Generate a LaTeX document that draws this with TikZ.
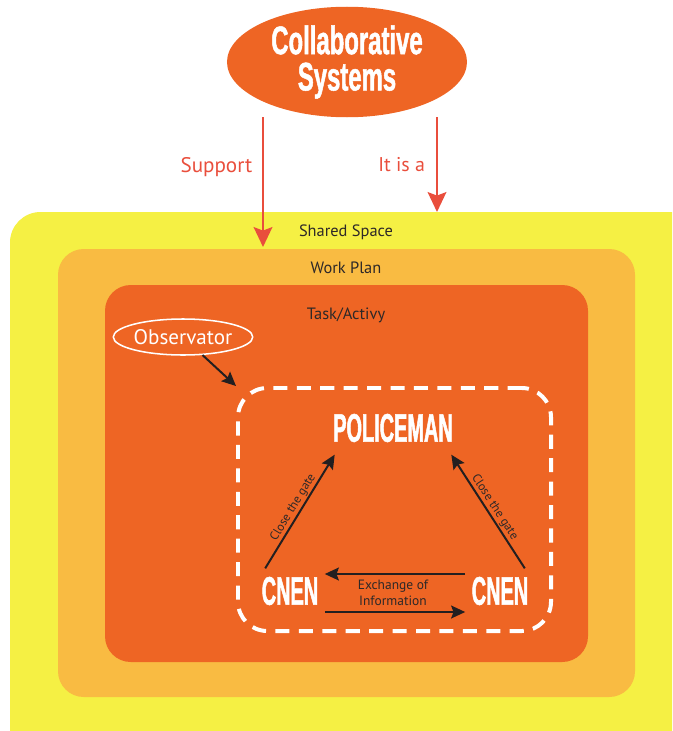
\documentclass[tikz,border=0pt]{standalone}
\usepackage{fontspec}
\setmainfont{PT Sans}
\newfontfamily\headfont[FakeStretch=0.6,FakeBold=1.2]{Liberation Sans}
\newfontfamily\capsfont[FakeStretch=0.5,FakeBold=1.2]{Liberation Sans}
\usetikzlibrary{arrows.meta,shapes.geometric}

\definecolor{sharedyellow}{RGB}{245,240,68}
\definecolor{planorange}{RGB}{249,187,66}
\definecolor{taskorange}{RGB}{238,101,36}
\definecolor{linkred}{RGB}{233,78,60}
\definecolor{arrowdark}{RGB}{35,31,32}
\definecolor{labeldark}{RGB}{45,40,40}

\tikzset{
  head/.style={text=white,inner sep=2pt,font=\headfont\bfseries\fontsize{34}{31}\selectfont},
  actor/.style={text=white,inner sep=2pt,font=\capsfont\bfseries\fontsize{34}{36}\selectfont},
  lbl/.style={text=labeldark,font=\fontsize{14}{16}\selectfont},
  small/.style={text=labeldark,inner sep=1pt,font=\fontsize{10.5}{12}\selectfont},
  redarrow/.style={draw=linkred,line width=1.7pt,-{Stealth[length=17pt,width=16pt,inset=3pt]}},
  blackarrow/.style={draw=arrowdark,line width=1.7pt,-{Stealth[length=12pt,width=11pt,inset=2pt]}},
}

\begin{document}
\begin{tikzpicture}[x=0.03cm,y=-0.03cm]
\useasboundingbox (0,0) rectangle (672,731);
\clip (0,0) rectangle (672,731);

% the three layers
\fill[sharedyellow,rounded corners=26pt] (10,212) rectangle (720,780);
\fill[planorange,rounded corners=22pt] (58,249) rectangle (635,697);
\fill[taskorange,rounded corners=22pt] (105,285) rectangle (588,662);

\node[lbl] (shared) at (346,232) {Shared Space};
\node[lbl] (plan) at (346,268) {Work Plan};
\node[lbl] (task) at (346,315) {Task/Activy};

% collaborative systems
\node[ellipse,fill=taskorange,minimum width=7.2cm,minimum height=3.3cm,inner sep=0pt,head,align=center] (collab) at (347,62) {Collaborative\\Systems};

\coordinate (supportend) at (263,247);
\coordinate (itisend) at (437,212);
\draw[redarrow] (collab.south -| supportend) -- (supportend)
  node[pos=0.38,left=5pt,text=linkred,font=\fontsize{18}{20}\selectfont] {Support};
\draw[redarrow] (collab.south -| itisend) -- (itisend)
  node[pos=0.5,left=6pt,text=linkred,font=\fontsize{17}{20}\selectfont] {It is a};

% observator and team
\node[ellipse,draw=white,line width=1.3pt,text=white,minimum width=3.78cm,minimum height=1.08cm,inner sep=0pt,font=\fontsize{18}{20}\selectfont] (obs) at (183,337) {Observator};

\node[draw=white,line width=3.4pt,dash pattern=on 12pt off 8pt,rounded corners=25pt,minimum width=9.39cm,minimum height=7.29cm] (team) at (394.5,509.5) {};

\draw[blackarrow] (obs) -- (team.north west);

\node[actor] (police) at (393,428) {POLICEMAN};
\node[actor] (cnenl) at (290,591) {CNEN};
\node[actor] (cnenr) at (500,591) {CNEN};

\draw[blackarrow] ([shift={(6,-6)}]cnenl.north west) -- ([shift={(4,10)}]police.south west)
  node[midway,sloped,above,small] {Close the gate};
\draw[blackarrow] ([shift={(-6,-6)}]cnenr.north east) -- ([shift={(-4,10)}]police.south east)
  node[midway,sloped,above,small] {Close the gate};

\draw[blackarrow] ([shift={(-4,-17)}]cnenr.west) -- ([shift={(4,-17)}]cnenl.east);
\draw[blackarrow] ([shift={(4,21)}]cnenl.east) -- ([shift={(-4,21)}]cnenr.west);

\node[small,align=center,font=\fontsize{11.5}{14}\selectfont] (exchange) at (393,593) {Exchange of\\Information};

\end{tikzpicture}
\end{document}
